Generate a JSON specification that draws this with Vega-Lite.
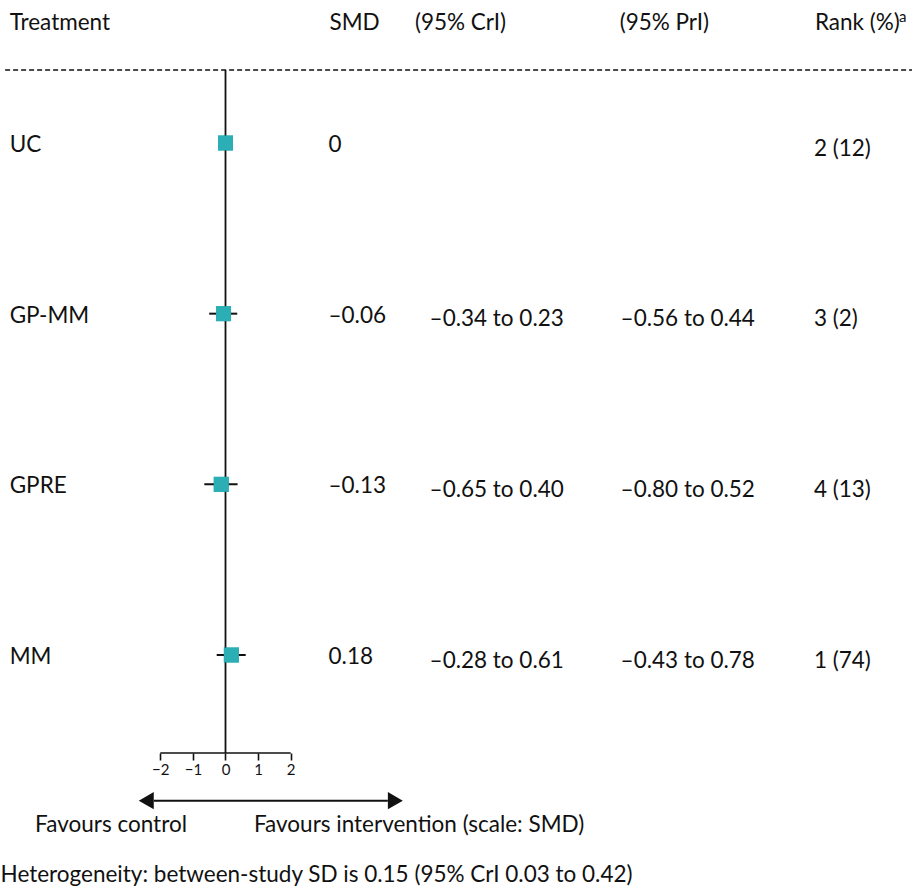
{
  "$schema": "https://vega.github.io/schema/vega-lite/v6.json",
  "width": 912,
  "height": 753,
  "autosize": {"type": "none"},
  "padding": {"left": 0, "top": 0, "right": 0, "bottom": 134},
  "background": "white",
  "config": {
    "view": {"stroke": null},
    "text": {"font": "Lato", "fontSize": 22.5, "color": "#111111", "align": "left", "baseline": "alphabetic"},
    "axisX": {"domain": false, "grid": false, "ticks": true, "tickSize": 7, "tickWidth": 1.6, "tickColor": "#111111", "labelFont": "Lato", "labelFontSize": 15, "labelColor": "#111111", "labelPadding": 2, "titleFontSize": 1, "titleColor": "white"}
  },
  "data": {"values": [
    {"treatment": "UC", "row": 1, "smd": 0, "smdText": "0", "crI": "", "prI": "", "rank": "2 (12)", "lo": null, "hi": null},
    {"treatment": "GP-MM", "row": 2, "smd": -0.06, "smdText": "–0.06", "crI": "–0.34 to 0.23", "prI": "–0.56 to 0.44", "rank": "3 (2)", "lo": -0.5, "hi": 0.36},
    {"treatment": "GPRE", "row": 3, "smd": -0.13, "smdText": "–0.13", "crI": "–0.65 to 0.40", "prI": "–0.80 to 0.52", "rank": "4 (13)", "lo": -0.65, "hi": 0.37},
    {"treatment": "MM", "row": 4, "smd": 0.18, "smdText": "0.18", "crI": "–0.28 to 0.61", "prI": "–0.43 to 0.78", "rank": "1 (74)", "lo": -0.27, "hi": 0.62}
  ]},
  "layer": [
    {
      "mark": {"type": "point", "shape": "square", "filled": true, "size": 225, "color": "#2BAEB4", "opacity": 1},
      "encoding": {
        "x": {"field": "smd", "type": "quantitative", "scale": {"domain": [-6.917, 21.058], "nice": false, "zero": false}, "axis": {"title": null, "values": [-2, -1, 0, 1, 2], "orient": "bottom", "labelFontSize": 15, "tickWidth": 1.6, "tickSize": 7}},
        "y": {"field": "row", "type": "quantitative", "scale": {"domain": [0.1621, 4.5742], "nice": false, "zero": false, "reverse": true}, "axis": null}
      }
    },
    {
      "data": {"values": [{}]},
      "mark": {"type": "rule", "strokeDash": [5, 3], "strokeWidth": 1.5, "color": "#111111"},
      "encoding": {
        "x": {"datum": -6.76, "type": "quantitative"},
        "x2": {"datum": 21.058},
        "y": {"datum": 0.5723, "type": "quantitative", "axis": null}
      }
    },
    {
      "data": {"values": [{}]},
      "mark": {"type": "rule", "strokeWidth": 1.8, "color": "#111111"},
      "encoding": {
        "x": {"datum": 0, "type": "quantitative"},
        "y": {"datum": 0.5723, "type": "quantitative", "axis": null},
        "y2": {"datum": 4.5742}
      }
    },
    {
      "data": {"values": [{}]},
      "mark": {"type": "rule", "strokeWidth": 1.6, "color": "#111111"},
      "encoding": {
        "x": {"datum": -2, "type": "quantitative"},
        "x2": {"datum": 2},
        "y": {"datum": 4.5742, "type": "quantitative", "axis": null}
      }
    },
    {
      "transform": [{"filter": "datum.lo != null"}],
      "mark": {"type": "rule", "strokeWidth": 2, "color": "#111111"},
      "encoding": {
        "x": {"field": "lo", "type": "quantitative"},
        "x2": {"field": "hi"},
        "y": {"field": "row", "type": "quantitative", "axis": null}
      }
    },
    {
      "mark": {"type": "point", "shape": "square", "filled": true, "size": 225, "color": "#2BAEB4", "opacity": 1},
      "encoding": {
        "x": {"field": "smd", "type": "quantitative"},
        "y": {"field": "row", "type": "quantitative", "axis": null}
      }
    },
    {
      "mark": {"type": "text", "dy": 9},
      "encoding": {
        "x": {"datum": -6.62, "type": "quantitative"},
        "y": {"field": "row", "type": "quantitative", "axis": null},
        "text": {"field": "treatment"}
      }
    },
    {
      "mark": {"type": "text", "dy": 9},
      "encoding": {
        "x": {"datum": 3.16, "type": "quantitative"},
        "y": {"field": "row", "type": "quantitative", "axis": null},
        "text": {"field": "smdText"}
      }
    },
    {
      "mark": {"type": "text", "dy": 12.5},
      "encoding": {
        "x": {"datum": 6.26, "type": "quantitative"},
        "y": {"field": "row", "type": "quantitative", "axis": null},
        "text": {"field": "crI"}
      }
    },
    {
      "mark": {"type": "text", "dy": 12.5},
      "encoding": {
        "x": {"datum": 12.12, "type": "quantitative"},
        "y": {"field": "row", "type": "quantitative", "axis": null},
        "text": {"field": "prI"}
      }
    },
    {
      "mark": {"type": "text", "dy": 12.5},
      "encoding": {
        "x": {"datum": 18.05, "type": "quantitative"},
        "y": {"field": "row", "type": "quantitative", "axis": null},
        "text": {"field": "rank"}
      }
    },
    {
      "data": {"values": [{}]},
      "mark": {"type": "text", "text": "Treatment"},
      "encoding": {"x": {"datum": -6.62, "type": "quantitative"}, "y": {"datum": 0.338, "type": "quantitative", "axis": null}}
    },
    {
      "data": {"values": [{}]},
      "mark": {"type": "text", "text": "SMD"},
      "encoding": {"x": {"datum": 3.19, "type": "quantitative"}, "y": {"datum": 0.338, "type": "quantitative", "axis": null}}
    },
    {
      "data": {"values": [{}]},
      "mark": {"type": "text", "text": "(95% CrI)"},
      "encoding": {"x": {"datum": 5.81, "type": "quantitative"}, "y": {"datum": 0.338, "type": "quantitative", "axis": null}}
    },
    {
      "data": {"values": [{}]},
      "mark": {"type": "text", "text": "(95% PrI)"},
      "encoding": {"x": {"datum": 12.09, "type": "quantitative"}, "y": {"datum": 0.338, "type": "quantitative", "axis": null}}
    },
    {
      "data": {"values": [{}]},
      "mark": {"type": "text", "text": "Rank (%)"},
      "encoding": {"x": {"datum": 18.08, "type": "quantitative"}, "y": {"datum": 0.338, "type": "quantitative", "axis": null}}
    },
    {
      "data": {"values": [{}]},
      "mark": {"type": "text", "text": "a", "fontSize": 15},
      "encoding": {"x": {"datum": 20.66, "type": "quantitative"}, "y": {"datum": 0.293, "type": "quantitative", "axis": null}}
    },
    {
      "data": {"values": [{}]},
      "mark": {"type": "rule", "strokeWidth": 2, "color": "#111111"},
      "encoding": {
        "x": {"datum": -2.2, "type": "quantitative"},
        "x2": {"datum": 4.98},
        "y": {"datum": 4.8537, "type": "quantitative", "axis": null}
      }
    },
    {
      "data": {"values": [{}]},
      "mark": {"type": "point", "shape": "triangle-left", "filled": true, "size": 300, "color": "#111111", "opacity": 1},
      "encoding": {"x": {"datum": -2.43, "type": "quantitative"}, "y": {"datum": 4.8537, "type": "quantitative", "axis": null}}
    },
    {
      "data": {"values": [{}]},
      "mark": {"type": "point", "shape": "triangle-right", "filled": true, "size": 300, "color": "#111111", "opacity": 1},
      "encoding": {"x": {"datum": 5.21, "type": "quantitative"}, "y": {"datum": 4.8537, "type": "quantitative", "axis": null}}
    },
    {
      "data": {"values": [{}]},
      "mark": {"type": "text", "text": "Favours control"},
      "encoding": {"x": {"datum": -5.84, "type": "quantitative"}, "y": {"datum": 5.04, "type": "quantitative", "axis": null}}
    },
    {
      "data": {"values": [{}]},
      "mark": {"type": "text", "text": "Favours intervention (scale: SMD)"},
      "encoding": {"x": {"datum": 0.874, "type": "quantitative"}, "y": {"datum": 5.04, "type": "quantitative", "axis": null}}
    },
    {
      "data": {"values": [{}]},
      "mark": {"type": "text", "text": "Heterogeneity: between-study SD is 0.15 (95% CrI 0.03 to 0.42)"},
      "encoding": {"x": {"datum": -6.9, "type": "quantitative"}, "y": {"datum": 5.33, "type": "quantitative", "axis": null}}
    }
  ]
}
